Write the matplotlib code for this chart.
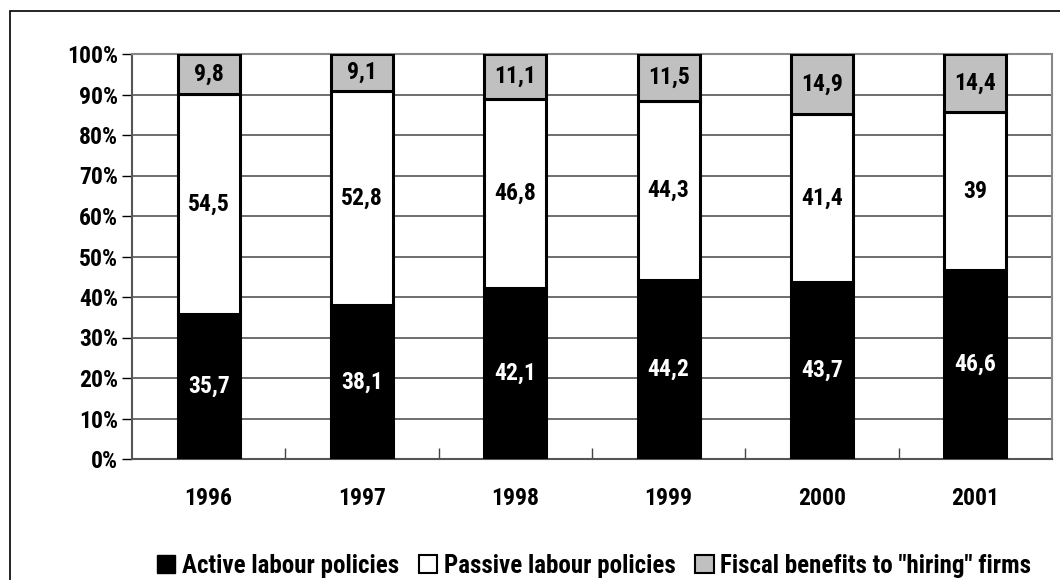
import matplotlib
matplotlib.use("Agg")
import matplotlib.pyplot as plt
from matplotlib.patches import Rectangle, Patch
from matplotlib.ticker import FixedLocator
import numpy as np

plt.rcParams['font.family'] = ['Roboto Condensed', 'DejaVu Sans']
plt.rcParams['font.weight'] = 'bold'

years = ['1996', '1997', '1998', '1999', '2000', '2001']
active = [35.7, 38.1, 42.1, 44.2, 43.7, 46.6]
passive = [54.5, 52.8, 46.8, 44.3, 41.4, 39]
fiscal = [9.8, 9.1, 11.1, 11.5, 14.9, 14.4]
series_names = ['Active labour policies', 'Passive labour policies', 'Fiscal benefits to "hiring" firms']

W, H = 1060, 580
fig = plt.figure(figsize=(W/100, H/100), dpi=100)
ax = fig.add_axes([132/W, 1-459/H, (1052-132)/W, (459-54)/H])

fig.patches.append(Rectangle((10/W, -0.1), 1.2, 1 - 11/H + 0.1, transform=fig.transFigure,
                             fill=False, edgecolor='black', linewidth=1.2))

x = np.arange(len(years))
tot = np.array(active) + np.array(passive) + np.array(fiscal)
a = np.array(active) / tot * 100
p = np.array(passive) / tot * 100
f = np.array(fiscal) / tot * 100
bw = 0.405
ax.bar(x, a, bw, color='black', edgecolor='black', linewidth=2.2, zorder=3)
ax.bar(x, p, bw, bottom=a, color='white', edgecolor='black', linewidth=2.2, zorder=3)
ax.bar(x, f, bw, bottom=a + p, color='#c0c0c0', edgecolor='black', linewidth=2.2, zorder=3)

fs = 17
def fmt(v):
    return ('%g' % v).replace('.', ',')
for i in range(len(years)):
    ax.text(x[i], a[i]/2, fmt(active[i]), ha='center', va='center', color='white', fontsize=fs, fontweight='bold', zorder=4)
    ax.text(x[i], a[i] + p[i]/2, fmt(passive[i]), ha='center', va='center', color='black', fontsize=fs, fontweight='bold', zorder=4)
    ax.text(x[i], a[i] + p[i] + f[i]/2, fmt(fiscal[i]), ha='center', va='center', color='black', fontsize=fs, fontweight='bold', zorder=4)

ax.set_xlim(-0.5, len(years) - 0.5)
ax.set_ylim(0, 100)
ax.set_yticks(range(0, 101, 10))
ax.set_yticklabels(['%d%%' % v for v in range(0, 101, 10)])
ax.set_xticks(x)
ax.set_xticklabels(years)
ax.xaxis.set_minor_locator(FixedLocator(np.arange(0.5, len(years) - 0.5, 1)))
ax.tick_params(axis='x', which='major', length=0, pad=20, labelsize=fs)
ax.tick_params(axis='x', which='minor', direction='in', length=8, width=1, color='#444444')
ax.tick_params(axis='y', which='major', direction='out', length=7, width=1, labelsize=fs, pad=3)
for lab in ax.get_xticklabels() + ax.get_yticklabels():
    lab.set_fontweight('bold')

ax.grid(axis='y', color='#555555', linewidth=1.2, zorder=0)
for side in ['top', 'right']:
    ax.spines[side].set_color('#888888')
    ax.spines[side].set_linewidth(1.5)
for side in ['left', 'bottom']:
    ax.spines[side].set_color('#555555')
    ax.spines[side].set_linewidth(1.5)

handles = [Patch(facecolor='black', edgecolor='black'),
           Patch(facecolor='white', edgecolor='black', linewidth=1.5),
           Patch(facecolor='#c0c0c0', edgecolor='black', linewidth=1.5)]
leg = fig.legend(handles, series_names, loc='center', bbox_to_anchor=(594/W, 1-566/H), ncol=3,
                 frameon=False, fontsize=18, handlelength=0.75, handleheight=0.75,
                 handletextpad=0.25, columnspacing=0.8, borderpad=0)
for t in leg.get_texts():
    t.set_fontweight('bold')

fig.savefig('out.png', dpi=100)
